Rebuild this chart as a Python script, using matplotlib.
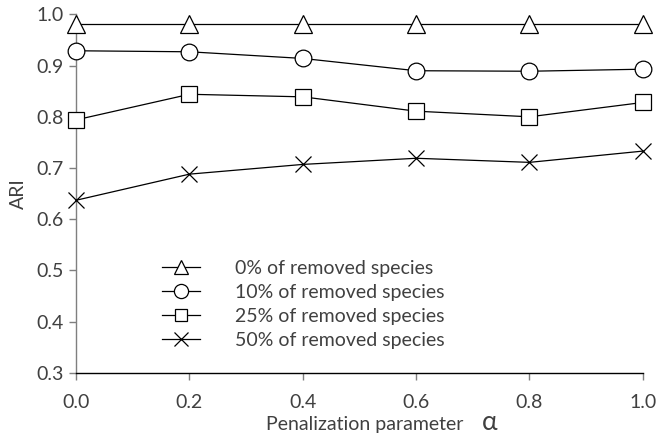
import matplotlib
matplotlib.use("Agg")
import matplotlib.pyplot as plt

alpha = [0.0, 0.2, 0.4, 0.6, 0.8, 1.0]
ari_0 = [0.982, 0.982, 0.982, 0.982, 0.982, 0.982]
ari_10 = [0.929, 0.927, 0.914, 0.890, 0.889, 0.893]
ari_25 = [0.794, 0.844, 0.839, 0.811, 0.800, 0.828]
ari_50 = [0.637, 0.688, 0.707, 0.719, 0.711, 0.733]

labels = ["0% of removed species", "10% of removed species",
          "25% of removed species", "50% of removed species"]
markers = ["^", "o", "s", "x"]
sizes = [12.5, 12, 11, 12]

plt.rcParams['font.family'] = ['Lato', 'DejaVu Sans']
text_color = '#404040'
fs = 14

fig = plt.figure(figsize=(6.62, 4.37), dpi=100)
ax = fig.add_axes([0.115, 0.147, 0.856, 0.82])

for ys, lab, m, ms in zip([ari_0, ari_10, ari_25, ari_50], labels, markers, sizes):
    ax.plot(alpha, ys, color='black', linewidth=0.9, marker=m, markersize=ms,
            markerfacecolor='white', markeredgecolor='black', markeredgewidth=0.9,
            label=lab, clip_on=False, zorder=3)

ax.set_xlim(0, 1.0)
ax.set_ylim(0.3, 1.0)
ax.set_xticks(alpha)
ax.set_xticklabels(["%.1f" % a for a in alpha])
yticks = [0.3, 0.4, 0.5, 0.6, 0.7, 0.8, 0.9, 1.0]
ax.set_yticks(yticks)
ax.set_yticklabels(["%.1f" % v for v in yticks])

for s in ['top', 'right']:
    ax.spines[s].set_visible(False)
ax.spines['left'].set_color('#7f7f7f')
ax.spines['left'].set_linewidth(1.0)
ax.spines['bottom'].set_color('black')
ax.spines['bottom'].set_linewidth(1.0)
ax.tick_params(axis='y', direction='out', length=5, width=1.0, color='#7f7f7f',
               labelsize=fs, labelcolor=text_color, pad=4)
ax.tick_params(axis='x', direction='out', length=5, width=1.0, color='#7f7f7f',
               labelsize=fs, labelcolor=text_color, pad=10)

ax.set_ylabel("ARI", fontsize=fs, color=text_color)
ax.yaxis.set_label_coords(-0.086, 0.5)
xlab = ax.set_xlabel("Penalization parameter", fontsize=fs, color=text_color)
ax.xaxis.set_label_coords(0.51, -0.12)
# larger alpha symbol placed right after the axis label
ax.annotate("α", xy=(1.0, 0.5), xycoords=xlab, xytext=(13, 1),
            textcoords='offset points', fontsize=fs * 1.35,
            color=text_color, ha='left', va='center')

leg = ax.legend(loc='upper left', bbox_to_anchor=(0.152, 0.314), frameon=False,
                fontsize=fs, handlelength=1.95, handletextpad=1.8,
                labelspacing=0.35, borderpad=0, borderaxespad=0,
                markerscale=0.85, labelcolor=text_color)

fig.savefig("out.png", dpi=100)
